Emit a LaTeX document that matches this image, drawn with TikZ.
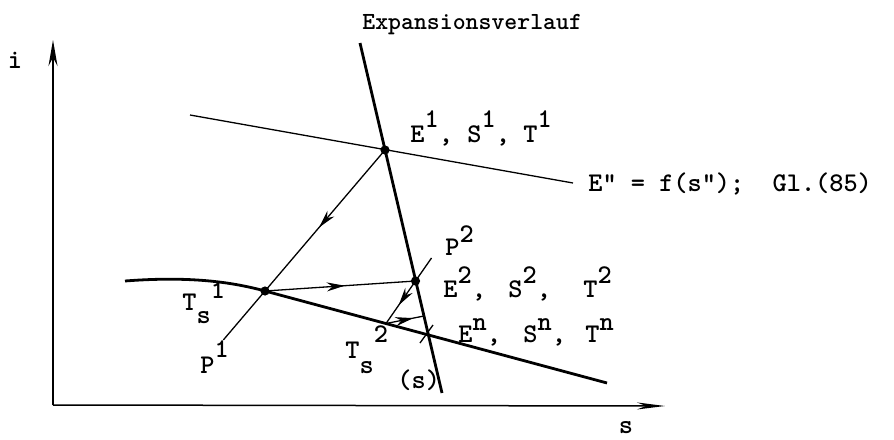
\documentclass[tikz,border=0pt]{standalone}
\usetikzlibrary{arrows.meta,decorations.markings}
\newcommand{\myraise}[2]{\raisebox{#1}{#2}}
\tikzset{
  thickline/.style={line width=1.4pt},
  thinline/.style={line width=0.65pt},
  axisline/.style={line width=0.75pt},
  dot/.style={circle,fill=black,inner sep=0pt,minimum size=4.6pt},
  pt/.style={inner sep=0pt,minimum size=0pt},
  lab/.style={anchor=base west,inner sep=0pt,font=\fontsize{13.5}{15}\selectfont\ttfamily\bfseries},
  midarrow/.style={postaction={decorate,decoration={markings,
     mark=at position #1 with {\arrow{Stealth[length=9pt,width=4.5pt]}}}}}
}
\begin{document}
\begin{tikzpicture}[x=0.5pt,y=-0.5pt]
\useasboundingbox (0,0) rectangle (894,439);
% axes
\coordinate (O) at (53,405);
\coordinate (ytop) at (53,40);
\coordinate (xend) at (665,406);
\draw[axisline,-{Stealth[length=13pt,width=4.5pt]}] (O) -- (ytop);
\draw[axisline,-{Stealth[length=14pt,width=3.5pt]}] (O) -- (xend);
% key points
\node[dot] (E1) at (385,150) {};
\node[dot] (Ts1) at (265,291) {};
\node[dot] (E2) at (415.5,281) {};
\node[pt] (Ts2) at (386,323.5) {};
\node[pt] (En) at (428.4,335) {};
% expansion line
\coordinate (exptop) at (360,43);
\coordinate (expbot) at (442,393);
\draw[thickline] (exptop) -- (expbot);
% E'' = f(s'') line
\coordinate (fl) at (190,115);
\coordinate (fr) at (573,183);
\draw[thinline] (fl) -- (fr);
% saturation curve
\coordinate (satl) at (125,281);
\coordinate (satr) at (607,383);
\draw[thickline] (satl) .. controls (190,276) and (232,282) .. (Ts1.center) -- (satr);
% isobar p1
\coordinate (p1end) at (223.3,340);
\draw[thinline,midarrow=0.55] (E1.center) -- (Ts1.center);
\draw[thinline] (Ts1.center) -- (p1end);
% Ts1 -> E2
\draw[thinline,midarrow=0.53] (Ts1.center) -- (E2.center);
% isobar p2
\coordinate (p2end) at (431.5,258);
\draw[thinline] (E2.center) -- (p2end);
\draw[thinline,midarrow=0.57] (E2.center) -- (Ts2.center);
% Ts2 -> expansion line
\coordinate (q3) at (424,316);
\draw[thinline,midarrow=0.72] (Ts2.center) -- (q3);
% cross at En
\coordinate (cra) at (420,343);
\coordinate (crb) at (433,325);
\draw[thinline] (cra) -- (crb);
% labels
\node[lab,font=\fontsize{12.3}{14}\selectfont\ttfamily\bfseries] (expl) at (362,29) {Expansionsverlauf};
\node[lab] (E1l) at (410,142) {\makebox[28.5pt][l]{E\myraise{7.5pt}{1},}\makebox[28pt][l]{S\myraise{7.5pt}{1},}T\myraise{7.5pt}{1}};
\node[lab] (eql) at (588,191) {E" = f(s");\ \ Gl.(85)};
\node[lab] (P2l) at (445,255) {P\myraise{6.5pt}{2}};
\node[lab] (E2l) at (443,297) {\makebox[32.5pt][l]{E\myraise{7pt}{2},}\makebox[37.5pt][l]{S\myraise{7pt}{2},}T\myraise{7pt}{2}};
\node[lab] (Enl) at (458,342) {\makebox[32.5pt][l]{E\myraise{6pt}{n},}\makebox[31pt][l]{S\myraise{6pt}{n},}T\myraise{6pt}{n}};
\node[lab] (Ts1l) at (182,310) {T\myraise{-6.5pt}{s}\myraise{6pt}{1}};
\node[lab] (P1l) at (200,373) {P\myraise{8pt}{1}};
\node[lab] (Ts2l) at (345,358) {T\myraise{-7.5pt}{s}\myraise{8pt}{2}};
\node[lab] (sl) at (397,388) {(s)};
\node[lab,anchor=base] (il) at (15,68) {i};
\node[lab,anchor=base] (sax) at (626,433) {s};
\end{tikzpicture}
\end{document}
